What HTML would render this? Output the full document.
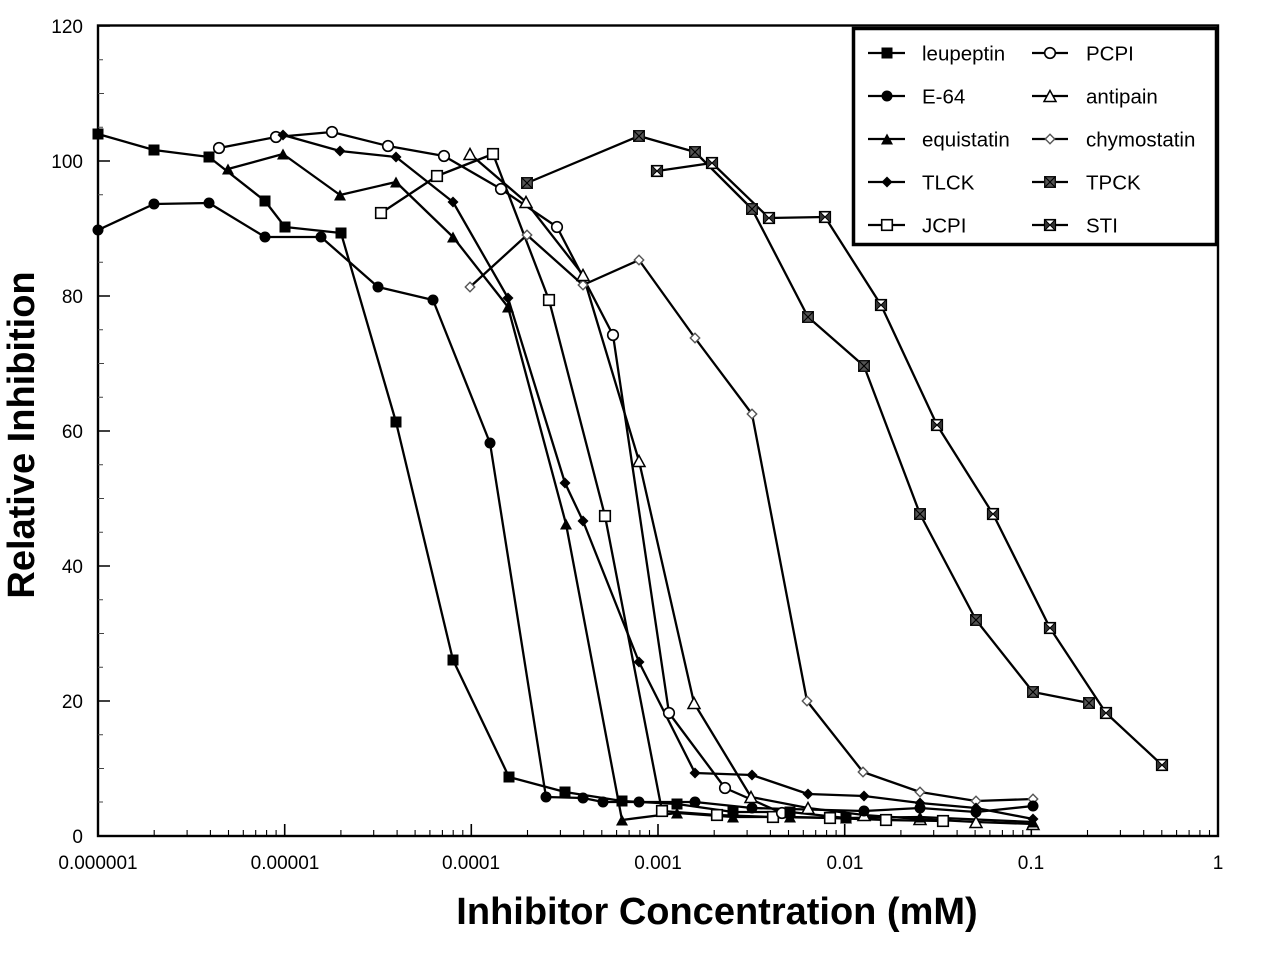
<!DOCTYPE html>
<html><head><meta charset="utf-8">
<style>
html,body{margin:0;padding:0;background:#fff;}
svg{display:block;}
text{font-family:"Liberation Sans",Arial,sans-serif;fill:#000;}
</style></head>
<body>
<svg width="1272" height="962" viewBox="0 0 1272 962" xmlns="http://www.w3.org/2000/svg">
<defs>
  <rect id="sqF" x="-5.5" y="-5.5" width="11" height="11" fill="#000"/>
  <circle id="cirF" r="5.5" fill="#000"/>
  <polygon id="triF" points="0,-6.5 6,4.5 -6,4.5" fill="#000"/>
  <polygon id="diaF" points="0,-5.5 5.5,0 0,5.5 -5.5,0" fill="#000"/>
  <rect id="sqO" x="-5.3" y="-5.3" width="10.6" height="10.6" fill="#fff" stroke="#000" stroke-width="1.6"/>
  <circle id="cirO" r="5.3" fill="#fff" stroke="#000" stroke-width="1.6"/>
  <polygon id="triO" points="0,-6.5 6,4.5 -6,4.5" fill="#fff" stroke="#000" stroke-width="1.5"/>
  <polygon id="diaO" points="0,-4.7 4.7,0 0,4.7 -4.7,0" fill="#fff" stroke="#555" stroke-width="1.4"/>
  <g id="tpck">
    <rect x="-5.3" y="-5.3" width="10.6" height="10.6" fill="#555" stroke="#111" stroke-width="1.4"/>
    <path d="M-5,-5L5,5M5,-5L-5,5" stroke="#000" stroke-width="1.2"/>
  </g>
  <g id="sti">
    <rect x="-5.3" y="-5.3" width="10.6" height="10.6" fill="#fff" stroke="#000" stroke-width="1.6"/>
    <polygon points="-5,-5 0,0 -5,5" fill="#333"/>
    <polygon points="5,-5 0,0 5,5" fill="#333"/>
    <path d="M-5,-5L5,5M5,-5L-5,5" stroke="#000" stroke-width="1"/>
  </g>
</defs>

<!-- axes frame -->
<rect x="98" y="25.5" width="1120" height="810.5" fill="none" stroke="#000" stroke-width="2.4"/>

<!-- y ticks -->
<g stroke="#000" stroke-width="1.6">
  <path d="M98,836H110M98,701H110M98,566H110M98,431H110M98,296H110M98,161H110M98,26H110"/>
  <path stroke-width="1" stroke="#444" d="M98,768.5H104M98,633.5H104M98,498.5H104M98,363.5H104M98,228.5H104M98,93.5H104M98,802H103M98,734.75H103M98,667.25H103M98,599.75H103M98,532.25H103M98,464.75H103M98,397.25H103M98,329.75H103M98,262.25H103M98,194.75H103M98,127.25H103M98,59.75H103"/>
</g>
<!-- x ticks -->
<g stroke="#000" stroke-width="1.6">
  <path d="M284.7,836V824M471.3,836V824M658,836V824M844.7,836V824M1031.3,836V824"/>
  <path stroke-width="1.1" d="M154.2,836V830M187.1,836V830M210.4,836V830M228.5,836V830M243.3,836V830M255.7,836V830M266.6,836V830M276.1,836V830
  M340.9,836V830M373.7,836V830M397.1,836V830M415.1,836V830M429.9,836V830M442.4,836V830M453.2,836V830M462.8,836V830
  M527.5,836V830M560.4,836V830M583.7,836V830M601.8,836V830M616.6,836V830M629.1,836V830M639.9,836V830M649.5,836V830
  M714.2,836V830M747.1,836V830M770.4,836V830M788.5,836V830M803.3,836V830M815.7,836V830M826.6,836V830M836.1,836V830
  M900.9,836V830M933.7,836V830M957.1,836V830M975.1,836V830M989.9,836V830M1002.4,836V830M1013.2,836V830M1022.8,836V830
  M1087.5,836V830M1120.4,836V830M1143.7,836V830M1161.8,836V830M1176.6,836V830M1189.1,836V830M1199.9,836V830M1209.5,836V830"/>
</g>

<!-- y tick labels -->
<g font-size="19" text-anchor="end">
  <text x="83" y="843">0</text>
  <text x="83" y="708">20</text>
  <text x="83" y="573">40</text>
  <text x="83" y="438">60</text>
  <text x="83" y="303">80</text>
  <text x="83" y="168">100</text>
  <text x="83" y="33">120</text>
</g>
<!-- x tick labels -->
<g font-size="19" text-anchor="middle">
  <text x="98" y="869">0.000001</text>
  <text x="285" y="869">0.00001</text>
  <text x="471" y="869">0.0001</text>
  <text x="658" y="869">0.001</text>
  <text x="845" y="869">0.01</text>
  <text x="1031" y="869">0.1</text>
  <text x="1218" y="869">1</text>
</g>

<!-- axis titles -->
<text x="717" y="924" font-size="38" font-weight="bold" text-anchor="middle">Inhibitor Concentration (mM)</text>
<text transform="translate(34,435) rotate(-90)" font-size="38" font-weight="bold" text-anchor="middle">Relative Inhibition</text>

<!-- data lines -->
<g fill="none" stroke="#000" stroke-width="2.3" stroke-linejoin="round">
  <polyline points="98,134 154,150 209,157 265,201 285,227 341,233 396,422 453,660 509,777 565,792 622,801 677,804 733,812 790,812 846,818"/>
  <polyline points="98,230 154,204 209,203 265,237 321,237 378,287 433,300 490,443 546,797 583,798 603,802 639,802 695,802 752,808 864,811 920,808 976,812 1033,806"/>
  <polyline points="228,169 283,154 340,195 396,182 453,237 508,307 566,524 622,820 677,813 733,817 790,817 846,818 920,817 1033,822"/>
  <polyline points="283,135 340,151 396,157 453,202 508,298 565,483 583,521 639,662 695,773 752,775 808,794 864,796 920,803 976,808 1033,819"/>
  <polyline points="381,213 437,176 493,154 549,300 605,516 662,811 717,815 773,817 830,818 886,820 943,821"/>
  <polyline points="219,148 276,137 332,132 388,146 444,156 501,189 557,227 613,335 669,713 725,788 782,813"/>
  <polyline points="470,154 526,202 583,275 639,461 694,703 751,797 808,808 864,815 920,819 976,822 1033,824"/>
  <polyline points="470,287 527,235 583,285 639,260 695,338 752,414 807,701 863,772 920,792 976,801 1033,799"/>
  <polyline points="527,183 639,136 695,152 752,209 808,317 864,366 920,514 976,620 1033,692 1089,703"/>
  <polyline points="657,171 712,163 769,218 825,217 881,305 937,425 993,514 1050,628 1106,713 1162,765"/>
</g>

<!-- markers -->
<use href="#diaO" x="470" y="287"/><use href="#diaO" x="527" y="235"/><use href="#diaO" x="583" y="285"/><use href="#diaO" x="639" y="260"/><use href="#diaO" x="695" y="338"/><use href="#diaO" x="752" y="414"/><use href="#diaO" x="807" y="701"/><use href="#diaO" x="863" y="772"/><use href="#diaO" x="920" y="792"/><use href="#diaO" x="976" y="801"/><use href="#diaO" x="1033" y="799"/>
<use href="#sqO" x="381" y="213"/><use href="#sqO" x="437" y="176"/><use href="#sqO" x="493" y="154"/><use href="#sqO" x="549" y="300"/><use href="#sqO" x="605" y="516"/><use href="#sqO" x="662" y="811"/><use href="#sqO" x="717" y="815"/><use href="#sqO" x="773" y="817"/><use href="#sqO" x="830" y="818"/><use href="#sqO" x="886" y="820"/><use href="#sqO" x="943" y="821"/>
<use href="#cirO" x="219" y="148"/><use href="#cirO" x="276" y="137"/><use href="#cirO" x="332" y="132"/><use href="#cirO" x="388" y="146"/><use href="#cirO" x="444" y="156"/><use href="#cirO" x="501" y="189"/><use href="#cirO" x="557" y="227"/><use href="#cirO" x="613" y="335"/><use href="#cirO" x="669" y="713"/><use href="#cirO" x="725" y="788"/><use href="#cirO" x="782" y="813"/>
<use href="#triO" x="470" y="155"/><use href="#triO" x="526" y="203"/><use href="#triO" x="583" y="276"/><use href="#triO" x="639" y="462"/><use href="#triO" x="694" y="704"/><use href="#triO" x="751" y="798"/><use href="#triO" x="808" y="809"/><use href="#triO" x="864" y="816"/><use href="#triO" x="920" y="820"/><use href="#triO" x="976" y="823"/><use href="#triO" x="1033" y="825"/>
<use href="#triF" x="228" y="170"/><use href="#triF" x="283" y="155"/><use href="#triF" x="340" y="196"/><use href="#triF" x="396" y="183"/><use href="#triF" x="453" y="238"/><use href="#triF" x="508" y="308"/><use href="#triF" x="566" y="525"/><use href="#triF" x="622" y="821"/><use href="#triF" x="677" y="814"/><use href="#triF" x="733" y="818"/><use href="#triF" x="790" y="818"/><use href="#triF" x="846" y="819"/><use href="#triF" x="920" y="818"/><use href="#triF" x="1033" y="823"/>
<use href="#diaF" x="283" y="135"/><use href="#diaF" x="340" y="151"/><use href="#diaF" x="396" y="157"/><use href="#diaF" x="453" y="202"/><use href="#diaF" x="508" y="298"/><use href="#diaF" x="565" y="483"/><use href="#diaF" x="583" y="521"/><use href="#diaF" x="639" y="662"/><use href="#diaF" x="695" y="773"/><use href="#diaF" x="752" y="775"/><use href="#diaF" x="808" y="794"/><use href="#diaF" x="864" y="796"/><use href="#diaF" x="920" y="803"/><use href="#diaF" x="976" y="808"/><use href="#diaF" x="1033" y="819"/>
<use href="#cirF" x="98" y="230"/><use href="#cirF" x="154" y="204"/><use href="#cirF" x="209" y="203"/><use href="#cirF" x="265" y="237"/><use href="#cirF" x="321" y="237"/><use href="#cirF" x="378" y="287"/><use href="#cirF" x="433" y="300"/><use href="#cirF" x="490" y="443"/><use href="#cirF" x="546" y="797"/><use href="#cirF" x="583" y="798"/><use href="#cirF" x="603" y="802"/><use href="#cirF" x="639" y="802"/><use href="#cirF" x="695" y="802"/><use href="#cirF" x="752" y="808"/><use href="#cirF" x="864" y="811"/><use href="#cirF" x="920" y="808"/><use href="#cirF" x="976" y="812"/><use href="#cirF" x="1033" y="806"/>
<use href="#sqF" x="98" y="134"/><use href="#sqF" x="154" y="150"/><use href="#sqF" x="209" y="157"/><use href="#sqF" x="265" y="201"/><use href="#sqF" x="285" y="227"/><use href="#sqF" x="341" y="233"/><use href="#sqF" x="396" y="422"/><use href="#sqF" x="453" y="660"/><use href="#sqF" x="509" y="777"/><use href="#sqF" x="565" y="792"/><use href="#sqF" x="622" y="801"/><use href="#sqF" x="677" y="804"/><use href="#sqF" x="733" y="812"/><use href="#sqF" x="790" y="812"/><use href="#sqF" x="846" y="818"/>
<use href="#tpck" x="527" y="183"/><use href="#tpck" x="639" y="136"/><use href="#tpck" x="695" y="152"/><use href="#tpck" x="752" y="209"/><use href="#tpck" x="808" y="317"/><use href="#tpck" x="864" y="366"/><use href="#tpck" x="920" y="514"/><use href="#tpck" x="976" y="620"/><use href="#tpck" x="1033" y="692"/><use href="#tpck" x="1089" y="703"/>
<use href="#sti" x="657" y="171"/><use href="#sti" x="712" y="163"/><use href="#sti" x="769" y="218"/><use href="#sti" x="825" y="217"/><use href="#sti" x="881" y="305"/><use href="#sti" x="937" y="425"/><use href="#sti" x="993" y="514"/><use href="#sti" x="1050" y="628"/><use href="#sti" x="1106" y="713"/><use href="#sti" x="1162" y="765"/>

<!-- legend -->
<rect x="853.5" y="28.5" width="363" height="216" fill="#fff" stroke="#000" stroke-width="3.5"/>
<g stroke="#000" stroke-width="2.2">
  <path d="M868,53H905M868,96H905M868,139H905M868,182H905M868,225H905M1032,53H1068M1032,96H1068M1032,139H1068M1032,182H1068M1032,225H1068"/>
</g>
<use href="#sqF" x="887" y="53"/>
<use href="#cirF" x="887" y="96"/>
<use href="#triF" x="887" y="140"/>
<use href="#diaF" x="887" y="182"/>
<use href="#sqO" x="887" y="225"/>
<use href="#cirO" x="1050" y="53"/>
<use href="#triO" x="1050" y="97"/>
<use href="#diaO" x="1050" y="139"/>
<use href="#tpck" x="1050" y="182"/>
<use href="#sti" x="1050" y="225"/>
<g font-size="20.5">
  <text x="922" y="60.5">leupeptin</text>
  <text x="922" y="103.5">E-64</text>
  <text x="922" y="146.5">equistatin</text>
  <text x="922" y="189.5">TLCK</text>
  <text x="922" y="232.5">JCPI</text>
  <text x="1086" y="60.5">PCPI</text>
  <text x="1086" y="103.5">antipain</text>
  <text x="1086" y="146.5">chymostatin</text>
  <text x="1086" y="189.5">TPCK</text>
  <text x="1086" y="232.5">STI</text>
</g>
</svg>
</body></html>
